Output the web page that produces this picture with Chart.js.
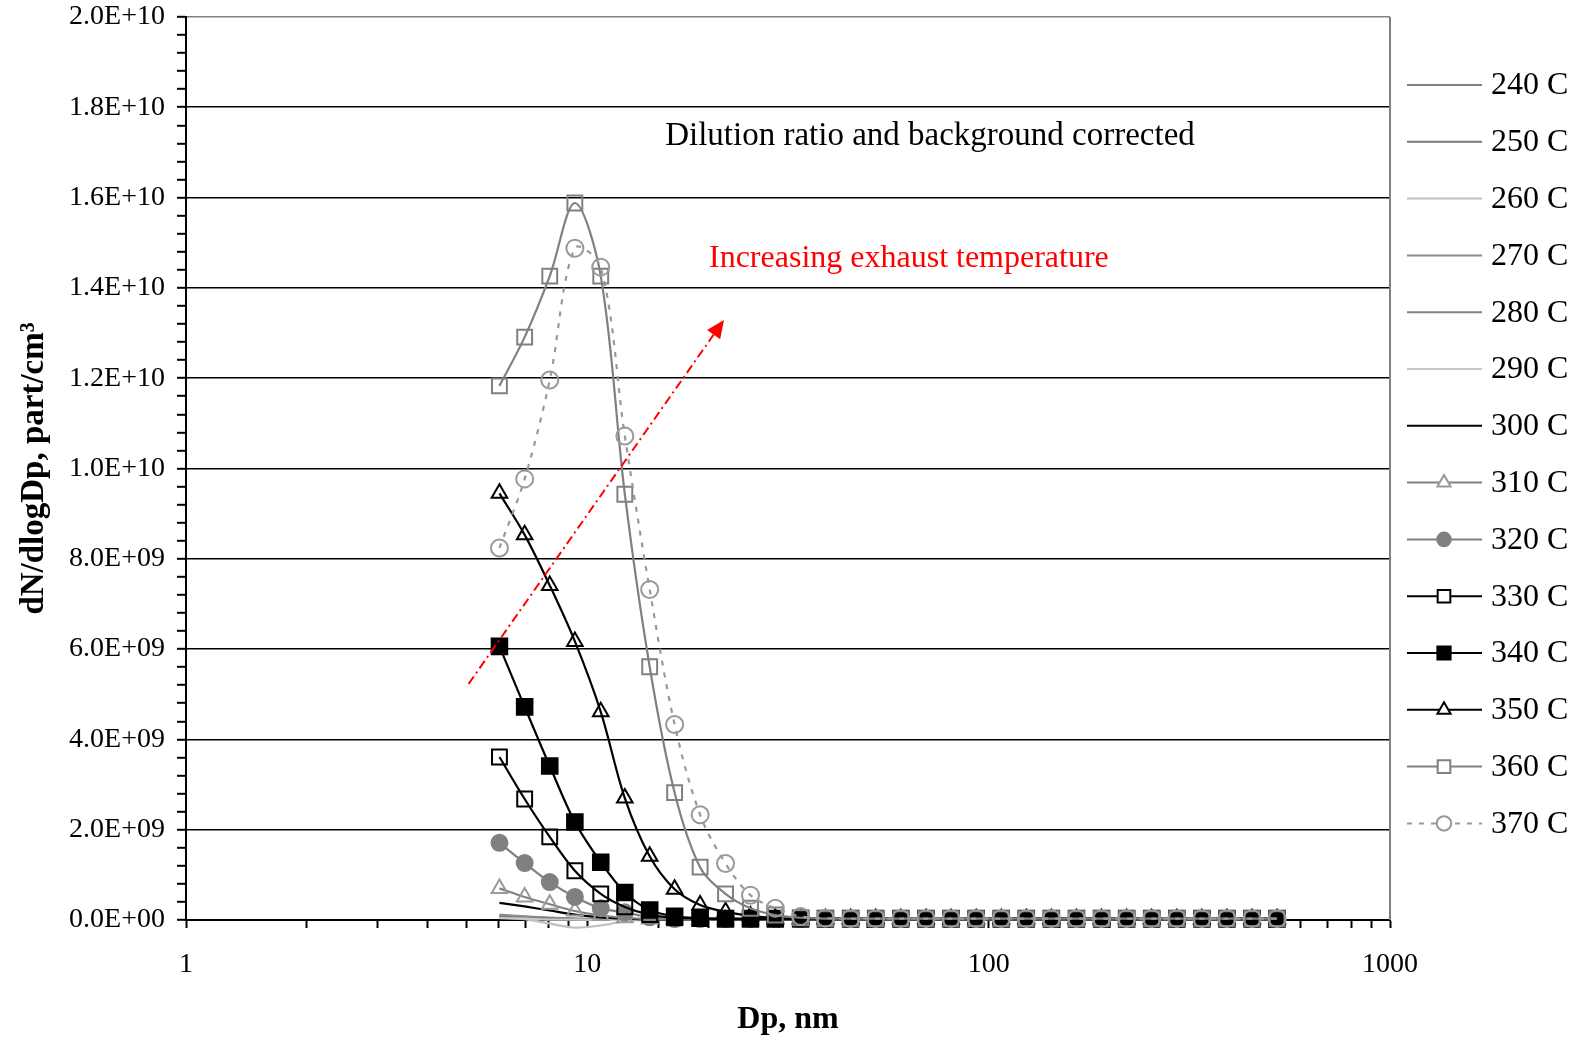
<!DOCTYPE html>
<html>
<head>
<meta charset="utf-8">
<script src="https://cdn.jsdelivr.net/npm/chart.js@4.4.0/dist/chart.umd.min.js"></script>
<style>
  html, body { margin: 0; padding: 0; background: #fff; }
  #wrap { width: 1589px; height: 1037px; position: relative; }
</style>
</head>
<body>
<div id="wrap"><canvas id="sizechart"></canvas></div>
<script>
// Start Data
// particle diameter, nm
const diameters = [6.04, 6.98, 8.06, 9.31, 10.8, 12.4, 14.3, 16.5, 19.1, 22.1, 25.5, 29.4, 34.0, 39.2, 45.3, 52.3,
  60.4, 69.8, 80.6, 93.1, 107.5, 124.1, 143.3, 165.5, 191.1, 220.7, 254.8, 294.3, 339.8, 392.4, 453.2, 523.3];

const seriesNames = ['240 C', '250 C', '260 C', '270 C', '280 C', '290 C', '300 C',
  '310 C', '320 C', '330 C', '340 C', '350 C', '360 C', '370 C'];

// dN/dlogDp in 1E+09 part/cm3
const t240 = [0.08, 0.06, 0.04, 0.02, 0.01, 0.01, 0, 0, 0, 0, 0, 0, 0, 0, 0, 0, 0, 0, 0, 0, 0, 0, 0, 0, 0, 0, 0, 0, 0, 0, 0, 0];
const t250 = [0.10, 0.07, 0.05, 0.03, 0.01, 0.01, 0, 0, 0, 0, 0, 0, 0, 0, 0, 0, 0, 0, 0, 0, 0, 0, 0, 0, 0, 0, 0, 0, 0, 0, 0, 0];
const t260 = [0.05, 0.02, -0.08, -0.17, -0.12, -0.03, 0, 0, 0, 0, 0, 0, 0, 0, 0, 0, 0, 0, 0, 0, 0, 0, 0, 0, 0, 0, 0, 0, 0, 0, 0, 0];
const t270 = [0.12, 0.08, 0.05, 0.03, 0.01, 0, 0, 0, 0, 0, 0, 0, 0, 0, 0, 0, 0, 0, 0, 0, 0, 0, 0, 0, 0, 0, 0, 0, 0, 0, 0, 0];
const t280 = [0.06, 0.05, 0.03, 0.02, 0.01, 0, 0, 0, 0, 0, 0, 0, 0, 0, 0, 0, 0, 0, 0, 0, 0, 0, 0, 0, 0, 0, 0, 0, 0, 0, 0, 0];
const t290 = [0.04, 0.03, 0.01, 0.01, 0, 0, 0, 0, 0, 0, 0, 0, 0, 0, 0, 0, 0, 0, 0, 0, 0, 0, 0, 0, 0, 0, 0, 0, 0, 0, 0, 0];
const t300 = [0.38, 0.30, 0.21, 0.12, 0.06, 0.03, 0.01, 0, 0, 0, 0, 0, 0, 0, 0, 0, 0, 0, 0, 0, 0, 0, 0, 0, 0, 0, 0, 0, 0, 0, 0, 0];
const t310 = [0.70, 0.51, 0.35, 0.20, 0.10, 0.05, 0.02, 0.01, 0.01, 0.01, 0.01, 0.01, 0.01, 0.01, 0.01, 0.01,
  0.01, 0.01, 0.01, 0.01, 0.01, 0.01, 0.01, 0.01, 0.01, 0.01, 0.01, 0.01, 0.01, 0.01, 0.01, 0.01];
const t320 = [1.71, 1.26, 0.84, 0.51, 0.26, 0.17, 0.06, 0.02, 0.02, 0.02, 0.02, 0.02, 0.02, 0.02, 0.02, 0.02,
  0.02, 0.02, 0.02, 0.02, 0.02, 0.02, 0.02, 0.02, 0.02, 0.02, 0.02, 0.02, 0.02, 0.02, 0.02, 0.02];
const t330 = [3.61, 2.68, 1.84, 1.09, 0.58, 0.29, 0.12, 0.05, 0.03, 0.02, 0.02, 0.02, 0.02, 0.02, 0.02, 0.02,
  0.02, 0.02, 0.02, 0.02, 0.02, 0.02, 0.02, 0.02, 0.02, 0.02, 0.02, 0.02, 0.02, 0.02, 0.02, 0.02];
const t340 = [6.06, 4.72, 3.41, 2.17, 1.28, 0.61, 0.22, 0.08, 0.04, 0.03, 0.03, 0.03, 0.03, 0.03, 0.03, 0.03,
  0.03, 0.03, 0.03, 0.03, 0.03, 0.03, 0.03, 0.03, 0.03, 0.03, 0.03, 0.03, 0.03, 0.03, 0.03, 0.03];
const t350 = [9.45, 8.53, 7.41, 6.17, 4.61, 2.70, 1.41, 0.68, 0.33, 0.18, 0.09, 0.04, 0.03, 0.03, 0.03, 0.03,
  0.03, 0.03, 0.03, 0.03, 0.03, 0.03, 0.03, 0.03, 0.03, 0.03, 0.03, 0.03, 0.03, 0.03, 0.03, 0.03];
const t360 = [11.83, 12.91, 14.26, 15.88, 14.26, 9.43, 5.61, 2.82, 1.17, 0.58, 0.26, 0.11, 0.05, 0.03, 0.03, 0.03,
  0.03, 0.03, 0.03, 0.03, 0.03, 0.03, 0.03, 0.03, 0.03, 0.03, 0.03, 0.03, 0.03, 0.03, 0.03, 0.03];
const t370 = [8.24, 9.77, 11.96, 14.88, 14.46, 10.72, 7.32, 4.33, 2.33, 1.25, 0.55, 0.26, 0.08, 0.04, 0.03, 0.03,
  0.03, 0.03, 0.03, 0.03, 0.03, 0.03, 0.03, 0.03, 0.03, 0.03, 0.03, 0.03, 0.03, 0.03, 0.03, 0.03];

const allSeries = [t240, t250, t260, t270, t280, t290, t300, t310, t320, t330, t340, t350, t360, t370];
const unit = 1e9;
// End Data

// Start Styles
const styles = [
  { line: '#808080' },
  { line: '#767676' },
  { line: '#c0c0c0' },
  { line: '#8c8c8c' },
  { line: '#808080' },
  { line: '#c8c8c8' },
  { line: '#000000' },
  { line: '#808080', shape: 'triangle', stroke: '#999999', fill: 'rgba(0,0,0,0)', r: 9 },
  { line: '#808080', shape: 'circle', stroke: '#808080', fill: '#808080', r: 8 },
  { line: '#000000', shape: 'rect', stroke: '#000000', fill: 'rgba(0,0,0,0)', r: 10.5 },
  { line: '#000000', shape: 'rect', stroke: '#000000', fill: '#000000', r: 11 },
  { line: '#000000', shape: 'triangle', stroke: '#000000', fill: 'rgba(0,0,0,0)', r: 9 },
  { line: '#808080', shape: 'rect', stroke: '#808080', fill: 'rgba(0,0,0,0)', r: 10.5 },
  { line: '#999999', shape: 'circle', stroke: '#999999', fill: 'rgba(0,0,0,0)', r: 8.5, dash: [5, 7] }
];
const serif = '"Liberation Serif", "Times New Roman", serif';
// End Styles

function sci(v) {
  if (v === 0) return '0.0E+00';
  const e = Math.floor(Math.log10(v) + 1e-9);
  const m = v / Math.pow(10, e);
  return m.toFixed(1) + 'E+' + String(e).padStart(2, '0');
}

function drawMarker(ctx, shape, x, y, r) {
  ctx.beginPath();
  if (shape === 'circle') {
    ctx.arc(x, y, r, 0, Math.PI * 2);
  } else if (shape === 'rect') {
    const h = r * Math.SQRT1_2;
    ctx.rect(x - h, y - h, 2 * h, 2 * h);
  } else if (shape === 'triangle') {
    let a = 0;
    ctx.moveTo(x + Math.sin(a) * r, y - Math.cos(a) * r);
    a += Math.PI * 2 / 3;
    ctx.lineTo(x + Math.sin(a) * r, y - Math.cos(a) * r);
    a += Math.PI * 2 / 3;
    ctx.lineTo(x + Math.sin(a) * r, y - Math.cos(a) * r);
    ctx.closePath();
  }
  ctx.fill();
  ctx.stroke();
}

// Start Extras (frame, legend, notes)
const arrowFrom = { x: 5.06, y: 5.23e9 };
const arrowTo = { x: 21.9, y: 13.29e9 };

const extras = {
  id: 'extras',
  afterDraw(chart) {
    const ctx = chart.ctx;
    const area = chart.chartArea;
    const xs = chart.scales.x, ys = chart.scales.y;
    ctx.save();

    // right frame line
    ctx.strokeStyle = '#808080';
    ctx.lineWidth = 2;
    ctx.beginPath();
    ctx.moveTo(area.right, area.top);
    ctx.lineTo(area.right, area.bottom);
    ctx.stroke();

    // notes
    ctx.textBaseline = 'middle';
    ctx.textAlign = 'center';
    ctx.fillStyle = '#000';
    ctx.font = '33px ' + serif;
    ctx.fillText('Dilution ratio and background corrected', 930, 136);
    ctx.textAlign = 'left';
    ctx.fillStyle = '#ff0000';
    ctx.font = '32px ' + serif;
    ctx.fillText('Increasing exhaust temperature', 709, 259);

    // arrow
    const x0 = xs.getPixelForValue(arrowFrom.x), y0 = ys.getPixelForValue(arrowFrom.y);
    const x1 = xs.getPixelForValue(arrowTo.x), y1 = ys.getPixelForValue(arrowTo.y);
    const ang = Math.atan2(y1 - y0, x1 - x0);
    const head = 18;
    ctx.strokeStyle = '#ff0000';
    ctx.lineWidth = 2;
    ctx.setLineDash([9, 4, 2, 4]);
    ctx.beginPath();
    ctx.moveTo(x0, y0);
    ctx.lineTo(x1 - Math.cos(ang) * head, y1 - Math.sin(ang) * head);
    ctx.stroke();
    ctx.setLineDash([]);
    ctx.fillStyle = '#ff0000';
    ctx.beginPath();
    ctx.moveTo(x1, y1);
    ctx.lineTo(x1 - Math.cos(ang) * head + Math.sin(ang) * 8, y1 - Math.sin(ang) * head - Math.cos(ang) * 8);
    ctx.lineTo(x1 - Math.cos(ang) * head - Math.sin(ang) * 8, y1 - Math.sin(ang) * head + Math.cos(ang) * 8);
    ctx.closePath();
    ctx.fill();

    // legend
    ctx.font = '32px ' + serif;
    ctx.textAlign = 'left';
    seriesNames.forEach(function(name, i) {
      const st = styles[i];
      const y = 85 + i * 56.8;
      ctx.strokeStyle = st.line;
      ctx.lineWidth = 2;
      ctx.setLineDash(st.dash || []);
      ctx.beginPath();
      ctx.moveTo(1407, y);
      ctx.lineTo(1482, y);
      ctx.stroke();
      ctx.setLineDash([]);
      if (st.shape) {
        ctx.fillStyle = st.fill === 'rgba(0,0,0,0)' ? '#ffffff' : st.fill;
        ctx.strokeStyle = st.stroke;
        drawMarker(ctx, st.shape, 1444, y, st.r * 0.85);
      }
      ctx.fillStyle = '#000';
      ctx.fillText(name, 1491, y + 1);
    });
    ctx.restore();
  }
};
// End Extras

const datasets = allSeries.map(function(vals, i) {
  const st = styles[i];
  return {
    label: seriesNames[i],
    data: diameters.map(function(d, j) { return { x: d, y: vals[j] * unit }; }),
    borderColor: st.line,
    borderWidth: 2.2,
    borderDash: st.dash || [],
    tension: 0.33,
    pointStyle: st.shape || 'circle',
    pointRadius: st.shape ? st.r : 0,
    pointBorderColor: st.stroke,
    pointBackgroundColor: st.fill,
    pointBorderWidth: 2,
    order: allSeries.length - 1 - i,
    clip: false
  };
});

new Chart(document.getElementById('sizechart'), {
  type: 'line',
  data: { datasets: datasets },
  options: {
    responsive: true,
    maintainAspectRatio: false,
    animation: false,
    layout: { padding: { top: 17, right: 199, left: 0, bottom: 0 } },
    plugins: { legend: { display: false }, tooltip: { enabled: false } },
    scales: {
      x: {
        type: 'logarithmic',
        min: 1,
        max: 1000,
        afterFit: function(scale) { scale.height = 117; },
        border: { color: '#000', width: 2 },
        grid: { drawOnChartArea: false, drawTicks: true, tickLength: 8, tickColor: '#000', tickWidth: 2 },
        ticks: {
          autoSkip: false,
          maxRotation: 0,
          padding: 20,
          color: '#000',
          font: { family: serif, size: 28 },
          callback: function(v) {
            const l = Math.log10(v);
            return Math.abs(l - Math.round(l)) < 1e-9 ? String(Math.round(v)) : '';
          }
        },
        title: {
          display: true,
          text: 'Dp, nm',
          color: '#000',
          font: { family: serif, size: 32, weight: 'bold', lineHeight: 1.1 },
          padding: { top: 0, bottom: 0 }
        }
      },
      y: {
        min: 0,
        max: 2e10,
        afterFit: function(scale) {
          scale.width = 186;
          scale.paddingTop = 0;
          scale.paddingBottom = 0;
        },
        border: { color: '#000', width: 2 },
        grid: {
          color: function(c) {
            const v = c.tick.value;
            if (Math.abs(v - 2e10) < 1) return '#808080';
            if (v === 0) return 'rgba(0,0,0,0)';
            return Math.round(v / 1e8) % 20 === 0 ? '#000' : 'rgba(0,0,0,0)';
          },
          lineWidth: 1.6,
          tickColor: '#000',
          tickLength: 9,
          tickWidth: 2
        },
        ticks: {
          stepSize: 4e8,
          autoSkip: false,
          padding: 12,
          color: '#000',
          font: { family: serif, size: 28 },
          callback: function(v) {
            return Math.round(v / 1e8) % 20 === 0 ? sci(Math.round(v / 1e8) * 1e8) : '';
          }
        },
        title: {
          display: true,
          text: 'dN/dlogDp, part/cm\u00b3',
          color: '#000',
          font: { family: serif, size: 33, weight: 'bold', lineHeight: 1.2 },
          padding: { top: 15, bottom: 0 }
        }
      }
    }
  },
  plugins: [extras]
});
</script>
</body>
</html>
